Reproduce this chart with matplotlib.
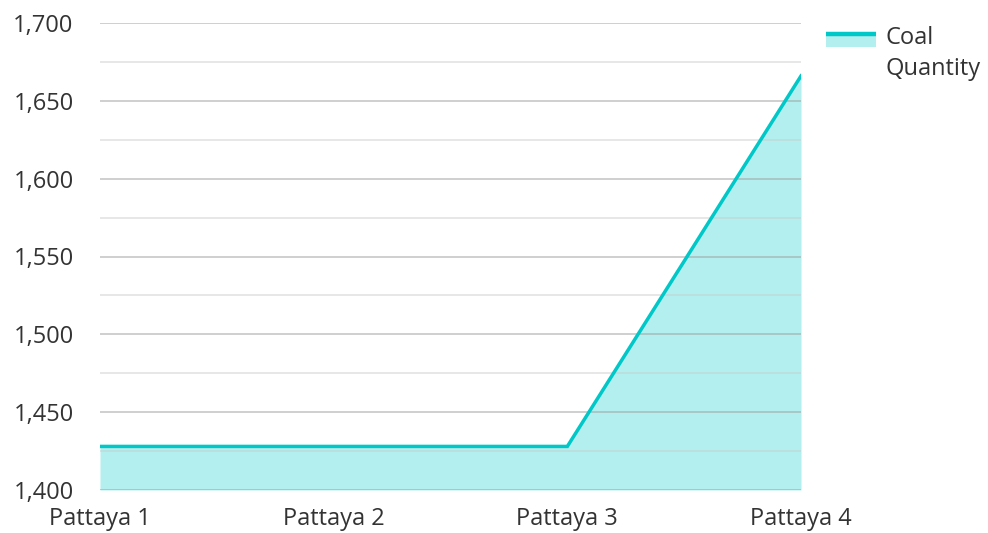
import matplotlib
matplotlib.use('Agg')
import matplotlib.pyplot as plt
from matplotlib.lines import Line2D
from matplotlib.patches import Rectangle
from matplotlib.ticker import FuncFormatter, MultipleLocator

categories = ['Pattaya 1', 'Pattaya 2', 'Pattaya 3', 'Pattaya 4']
coal_quantity = [1428, 1428, 1428, 1666]
series_name = 'Coal\nQuantity'

plt.rcParams['font.family'] = ['Open Sans', 'DejaVu Sans']

line_col = '#00c8c8'
fill_col = '#b2efee'
text_col = '#333333'
fs = 17


class TopLineHandler:
    # draw the swatch beside the first line of a two-line label
    def legend_artist(self, legend, orig_handle, fontsize, handlebox):
        x0 = -handlebox.xdescent
        w = handlebox.width
        rect = Rectangle((x0, 0.635 * fontsize), w, 0.635 * fontsize,
                         facecolor=fill_col, edgecolor='none',
                         transform=handlebox.get_transform())
        ln = Line2D([x0, x0 + w], [1.19 * fontsize] * 2, color=line_col, lw=3.2,
                    solid_capstyle='butt', transform=handlebox.get_transform())
        handlebox.add_artist(rect)
        handlebox.add_artist(ln)
        return ln


fig = plt.figure(figsize=(9.88, 5.33), dpi=100)
ax = fig.add_axes([100 / 988, 1 - 490 / 533, 701 / 988, 467 / 533])

x = list(range(len(categories)))
ax.fill_between(x, coal_quantity, 1400, color=fill_col, lw=0, zorder=1)
ax.plot(x, coal_quantity, color=line_col, lw=2.5, zorder=3, solid_joinstyle='miter')

ax.set_xlim(0, len(categories) - 1)
ax.set_ylim(1400, 1700)
ax.yaxis.set_major_locator(MultipleLocator(50))
ax.yaxis.set_minor_locator(MultipleLocator(25))
ax.yaxis.set_major_formatter(FuncFormatter(lambda v, p: f'{int(v):,}'))
ax.grid(which='major', axis='y', color='#9a9a9a', lw=1.2, alpha=0.55, zorder=2)
ax.grid(which='minor', axis='y', color='#c8c8c8', lw=1.2, alpha=0.5, zorder=2)
ax.set_axisbelow(False)
ax.set_xticks(x)
ax.set_xticklabels(categories)
ax.tick_params(axis='both', which='both', length=0, labelsize=fs, colors=text_col)
ax.tick_params(axis='x', pad=12)
ax.tick_params(axis='y', pad=19)
for s in ax.spines.values():
    s.set_visible(False)

leg = fig.legend(['coal'], [series_name], handler_map={str: TopLineHandler()},
                 loc='upper left', bbox_to_anchor=(826 / 988, 1 - 26 / 533),
                 frameon=False, fontsize=fs, borderpad=0, borderaxespad=0,
                 handlelength=2.1, handletextpad=0.42, labelcolor=text_col)
for t in leg.get_texts():
    t.set_linespacing(1.37)

fig.savefig('out.png', dpi=100)
